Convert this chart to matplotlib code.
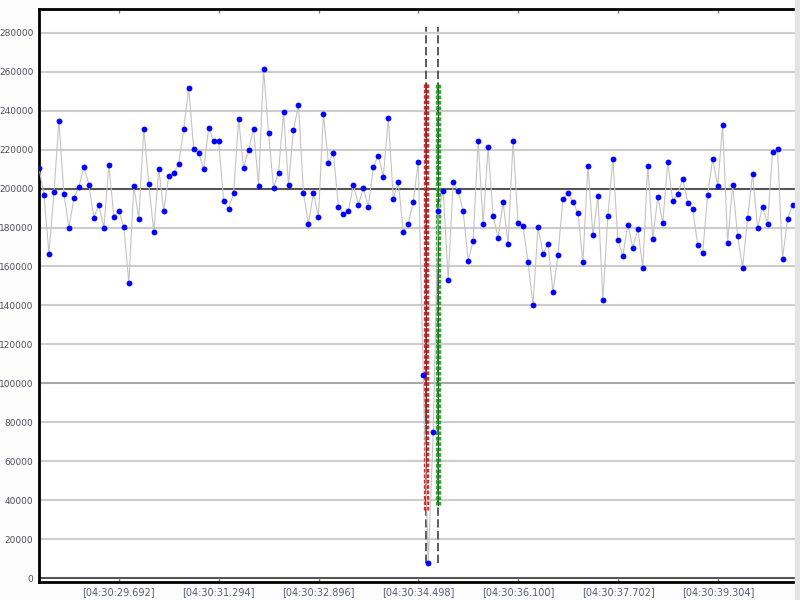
import numpy as np
import matplotlib.pyplot as plt
from matplotlib.patches import Rectangle

plt.rcParams['lines.scale_dashes'] = False

# sampled values (one every 0.08 s)
values = [
    210600, 196800, 166500, 198300, 234800, 197300, 179800, 195200, 200900, 211200,
    201900, 185000, 191600, 179800, 212200, 185500, 188500, 180300, 151600, 201400,
    184400, 230700, 202400, 177800, 210100, 188500, 206500, 208100, 212700, 230700,
    251700, 220400, 218300, 210100, 231200, 224500, 224500, 193700, 189600, 197800,
    235800, 210600, 219900, 230700, 201400, 261500, 228600, 200400, 208100, 239400,
    201900, 230200, 243000, 197800, 181900, 197800, 185500, 238400, 213200, 218300,
    190600, 187000, 188500, 201900, 191600, 200400, 190600, 211200, 216800, 206000,
    236300, 194700, 203400, 177800, 181900, 193200, 213700, 104300, 7700, 75000,
    188500, 198800, 153100, 203400, 198800, 188500, 162900, 173100, 224500, 181900,
    221400, 186000, 174700, 193200, 171600, 224500, 182400, 180800, 162300, 140300,
    180300, 166500, 171600, 146900, 166000, 194700, 197800, 193200, 187500, 162300,
    211700, 176200, 196300, 142800, 186000, 215300, 173600, 165400, 181400, 169500,
    179300, 159300, 211700, 174200, 195700, 182400, 213700, 193700, 197300, 205000,
    192700, 189600, 171100, 167000, 196800, 215300, 201400, 232700, 172100, 201900,
    175700, 159300, 185000, 207600, 179800, 190600, 181900, 218900, 220400, 163900,
    184400, 191600,
]
t_start = 28.414
t_step = 0.08

# event markers: time, low, high
event_times = [34.62, 34.81]
event_colors = ['#e82020', '#22b022']
event_edges = ['#6a3030', '#305a30']
event_low = [34900, 37500]
event_high = [254300, 254300]
dash_low = 7700
dash_high = 283000

tick_pos = [29.692, 31.294, 32.896, 34.498, 36.100, 37.702, 39.304]
tick_labels = ['[04:30:29.692]', '[04:30:31.294]', '[04:30:32.896]', '[04:30:34.498]',
               '[04:30:36.100]', '[04:30:37.702]', '[04:30:39.304]']
y_ticks = list(range(0, 280001, 20000))

t = t_start + t_step * np.arange(len(values))

fig = plt.figure(figsize=(8, 6), dpi=100, facecolor='#fcfcfc')
ax = fig.add_axes([39/800, 18/600, 756/800, 573/600])
fig.patches.append(Rectangle((795/800, 0), 5/800, 1, transform=fig.transFigure,
                             color='#e4e4e4', zorder=0))

# grid
for v in y_ticks:
    if v in (0, 200000):
        c = '#555555'
    elif v == 100000:
        c = '#a8a8a8'
    else:
        c = '#cccccc'
    ax.axhline(v, color=c, lw=1.5, zorder=1)

# event columns
for et, col, edge, lo, hi in zip(event_times, event_colors, event_edges,
                                 event_low, event_high):
    ax.plot([et, et], [dash_low, dash_high], color='#404040', lw=1.2,
            dashes=(6, 2.5), zorder=2)
    ax.plot([et, et], [lo, hi], color=col, lw=3.8, dashes=(2.6, 1.3),
            dash_capstyle='butt', zorder=3)
    ax.plot([et, et], [lo, hi], color=edge, lw=0.7, zorder=3)

ax.plot(t, values, color='#c4c4c4', lw=0.8, zorder=4)
ax.plot(t, values, 'o', color='#0000ff', ms=4.2, mec='#0000ff', mew=0, zorder=5)

ax.set_xlim(t_start, t_start + t_step * len(values) - 0.04)
ax.set_ylim(-2000, 292200)

ax.set_yticks(y_ticks)
ax.set_yticklabels([str(v) for v in y_ticks])
ax.set_xticks(tick_pos)
ax.set_xticklabels(tick_labels)
ax.tick_params(axis='y', length=0, pad=4, labelsize=6.5, labelcolor='#505060')
ax.tick_params(axis='x', direction='in', length=3, width=1, color='#808080',
               pad=4, labelsize=7, labelcolor='#5a5a78', top=True)

for s in ('left', 'top', 'bottom'):
    ax.spines[s].set_linewidth(2)
    ax.spines[s].set_color('black')
ax.spines['right'].set_visible(False)
ax.set_facecolor('white')

fig.savefig('out.png', dpi=100, facecolor=fig.get_facecolor())
